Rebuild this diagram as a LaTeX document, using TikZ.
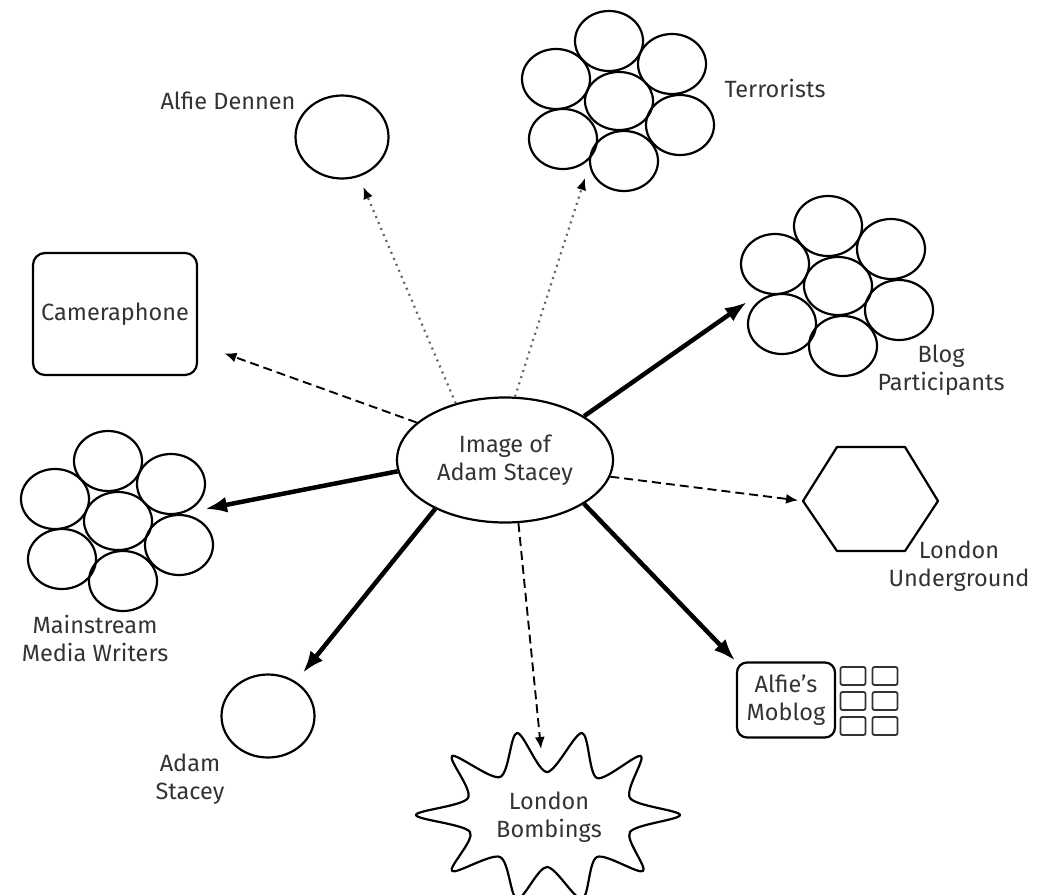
\documentclass[tikz,border=0pt]{standalone}
\usepackage{fontspec}
\setmainfont{Fira Sans}
\usetikzlibrary{arrows.meta,shapes.geometric}

\definecolor{ink}{HTML}{333333}

\tikzset{
  lbl/.style={font=\fontsize{23.5}{28}\selectfont, text=ink, align=center, inner sep=0pt},
  ring/.style={draw, line width=2.2pt},
  heavy/.style={line width=4.5pt, -{Latex[length=22pt,width=16pt]}},
  dasharrow/.style={line width=1.9pt, dash pattern=on 9pt off 5pt, -{Latex[length=12pt,width=10pt]}},
  dotarrow/.style={line width=2.2pt, draw=black!60, dash pattern=on 2pt off 4.5pt,
                   -{Latex[length=12pt,width=10pt,fill=black,color=black]}},
  % a group of people: a core circle ringed by six others
  cluster/.pic={
    \foreach \dx/\dy in {-10/-60,53/-37,-63/-22,-56/38,5/60,61/24}
      \draw[ring] (\dx,\dy) ellipse [x radius=34pt, y radius=30pt];
    \node[ring, ellipse, minimum width=68pt, minimum height=58pt, inner sep=0pt] (-core) at (0,0) {};
  }
}

\begin{document}
\begin{tikzpicture}[x=1pt, y=-1pt]
\useasboundingbox (0,0) rectangle (1046,894);

% central node
\node[ellipse, ring, minimum width=216pt, minimum height=125pt, lbl] (img) at (505,460)
  {Image of\\Adam Stacey};

% single people
\node[ellipse, ring, minimum width=93pt, minimum height=83pt] (alfie) at (342,137) {};
\node[lbl, anchor=base] (alfielbl) at (228,109) {Alfie Dennen};

\node[ellipse, ring, minimum width=93pt, minimum height=83pt] (adam) at (268,716) {};
\node[lbl] (adamlbl) at (190,779) {Adam\\Stacey};

% groups
\pic (terr) at (619,101) {cluster};
\node[lbl, anchor=base] (terrlbl) at (775,97) {Terrorists};

\pic (blog) at (838,286) {cluster};
\node[lbl] (bloglbl) at (941,370) {Blog\\Participants};

\pic (media) at (118,521) {cluster};
\node[lbl] (medialbl) at (95,638) {Mainstream\\Media Writers};

% devices and sites
\node[ring, rounded corners=12pt, minimum width=164pt, minimum height=122pt, lbl] (cam) at (115,314)
  {Cameraphone};

\node[ring, rounded corners=10pt, minimum width=98pt, minimum height=75pt, lbl] (moblog) at (786,700)
  {Alfie's\\Moblog};
\foreach \cx in {853,885}
  \foreach \cy in {676,701,726}
    \draw[line width=1.8pt, draw=ink, rounded corners=2pt] (\cx-12.5,\cy-9) rectangle (\cx+12.5,\cy+9);

% the Underground
\draw[ring, line join=round] (803,501) coordinate (underW) -- (837,447) -- (905,447) -- (938,501)
  -- (905,551) -- (837,551) -- cycle;
\node[lbl] (underlbl) at (959,566) {London\\Underground};

% the bombings
\draw[ring, line join=round] plot[smooth cycle, tension=0.5] coordinates {
  (517,733) (547,772) (582,733) (597,778) (641,756) (630,798) (680,815) (630,832)
  (643,871) (597,857) (582,899) (547,867) (517,899) (500,857) (452,871) (470,832)
  (416,815) (468,798) (452,756) (500,777)};
\node[lbl] (bomblbl) at (549,817) {London\\Bombings};

% arrow ends
\coordinate (terrtip) at (585,178);
\coordinate (blogtip) at (747,302);
\coordinate (mediatip) at (205,509);
\coordinate (bombtip) at (541,749);

% connectors
\draw[dotarrow, shorten >=11pt] (img.131) -- (alfie);
\draw[dotarrow] (img.81) -- (terrtip);
\draw[dasharrow, shorten >=28pt] (img.157) -- (cam);
\draw[heavy] (img.29) -- (blogtip);
\draw[dasharrow, shorten >=5pt] (img.-9) -- (underW);
\draw[heavy, shorten >=1pt] (img.-29) -- (moblog.north west);
\draw[dasharrow] (img.-78) -- (bombtip);
\draw[heavy, shorten >=11pt] (img.215) -- (adam);
\draw[heavy] (img.186) -- (mediatip);
\end{tikzpicture}
\end{document}
